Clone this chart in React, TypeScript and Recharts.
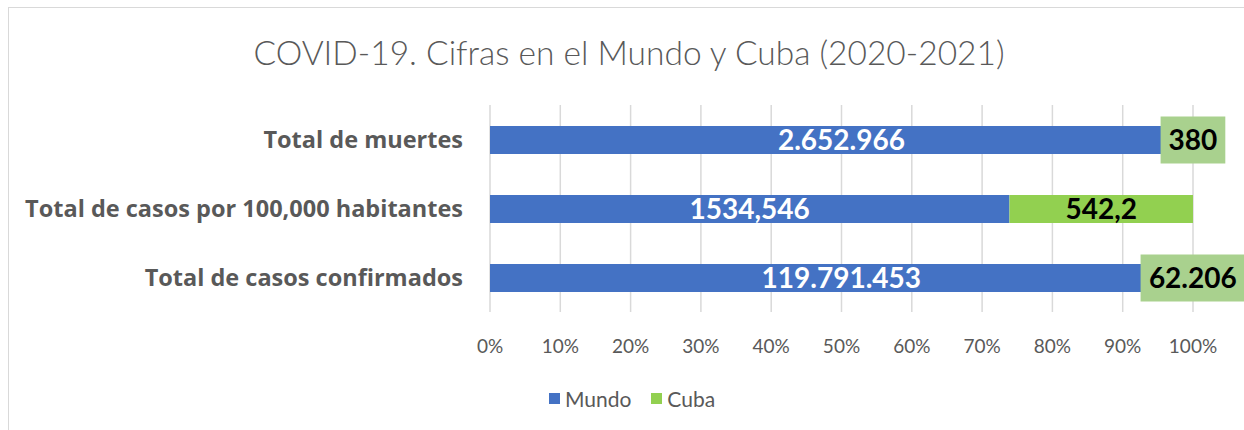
import React from "react";
import { BarChart, Bar, XAxis, YAxis, CartesianGrid, Legend, LabelList } from "recharts";

const categories = ["Total de muertes", "Total de casos por 100,000 habitantes", "Total de casos confirmados"];
const mundo = [2652966, 1534.546, 119791453];
const cuba = [380, 542.2, 62206];
const xTicks = [0, 0.1, 0.2, 0.3, 0.4, 0.5, 0.6, 0.7, 0.8, 0.9, 1];
const seriesNames = ["Mundo", "Cuba"];
const seriesColors = ["#4472C4", "#92D050"];

const data = categories.map((name, i) => ({ name, Mundo: mundo[i], Cuba: cuba[i] }));

const FONT = "Lato, 'Open Sans', sans-serif";
const CAT_FONT = "'Open Sans', Lato, sans-serif";
const GREY = "#595959";

// Spanish style: dots for thousands, comma for decimals
const fmt = (v: number) => {
  if (Number.isInteger(v)) return String(v).replace(/\B(?=(\d{3})+(?!\d))/g, ".");
  return String(v).replace(".", ",");
};

const textWidth = (s: string, fs: number) =>
  s.split("").reduce((w, c) => w + (/[0-9]/.test(c) ? 0.58 : 0.26) * fs, 0);

const MundoLabel = (props: any) => {
  const { x, y, width, height, value } = props;
  return (
    <text x={x + width / 2} y={y + height / 2} dy="0.36em" textAnchor="middle"
      fill="#fff" fontSize={28} fontWeight={700} fontFamily={FONT}>
      {fmt(Number(value))}
    </text>
  );
};

const CubaLabel = (props: any) => {
  const { x, y, width, height, value } = props;
  const label = fmt(Number(value));
  const cx = x + width / 2;
  const cy = y + height / 2;
  const tw = textWidth(label, 28);
  const boxed = width < tw + 10;
  return (
    <g>
      {boxed && <rect x={cx - tw / 2 - 8} y={cy - 23.5} width={tw + 16} height={47} fill="#A9D18E" />}
      <text x={cx} y={cy} dy="0.36em" textAnchor="middle" fill="#000"
        fontSize={28} fontWeight={700} fontFamily={FONT}>
        {label}
      </text>
    </g>
  );
};

const LegendContent = () => (
  <div style={{ display: "flex", justifyContent: "center", alignItems: "center", marginTop: 10,
    fontFamily: FONT, fontSize: 21, color: GREY }}>
    {seriesNames.map((n, i) => (
      <span key={n} style={{ display: "inline-flex", alignItems: "center", marginRight: i === 0 ? 20 : 0 }}>
        <span style={{ display: "inline-block", width: 11, height: 11, background: seriesColors[i], marginRight: 5 }} />
        {n}
      </span>
    ))}
  </div>
);

export default function App() {
  return (
    <div style={{ position: "absolute", left: 0, top: 0, width: 1244, height: 430, overflow: "hidden", background: "#fff" }}>
      <div style={{ position: "absolute", left: 8, top: 7, width: 1300, height: 500, borderLeft: "1px solid #D9D9D9", borderTop: "1px solid #D9D9D9" }} />
      <div style={{ position: "absolute", left: 0, top: 31, width: 1258, textAlign: "center", lineHeight: "42px",
        fontSize: 33.5, fontWeight: 300, color: GREY, fontFamily: FONT }}>
        COVID-19. Cifras en el Mundo y Cuba (2020-2021)
      </div>
      <div style={{ position: "absolute", left: 0, top: 0 }}>
        <BarChart width={1244} height={430} data={data} layout="vertical" stackOffset="expand"
          barSize={28} margin={{ top: 105, right: 51, bottom: 14, left: 0 }}>
          <CartesianGrid horizontal={false} stroke="#D9D9D9" strokeWidth={1.5} />
          <XAxis type="number" domain={[0, 1]} ticks={xTicks} interval={0}
            tickFormatter={(v: number) => `${Math.round(v * 100)}%`}
            axisLine={false} tickLine={false} tickSize={0} tickMargin={28} height={64}
            tick={{ fill: GREY, fontSize: 19, fontFamily: FONT }} />
          <YAxis type="category" dataKey="name" width={490} axisLine={false} tickLine={false}
            tickSize={0} tickMargin={27}
            tick={{ fill: GREY, fontSize: 23.5, fontWeight: 700, fontFamily: CAT_FONT }} />
          <Legend verticalAlign="bottom" height={40} wrapperStyle={{ left: 0, width: 1264 }}
            content={LegendContent} />
          <Bar dataKey="Mundo" stackId="a" fill={seriesColors[0]} isAnimationActive={false}>
            <LabelList dataKey="Mundo" content={MundoLabel} />
          </Bar>
          <Bar dataKey="Cuba" stackId="a" fill={seriesColors[1]} isAnimationActive={false}>
            <LabelList dataKey="Cuba" content={CubaLabel} />
          </Bar>
        </BarChart>
      </div>
    </div>
  );
}
